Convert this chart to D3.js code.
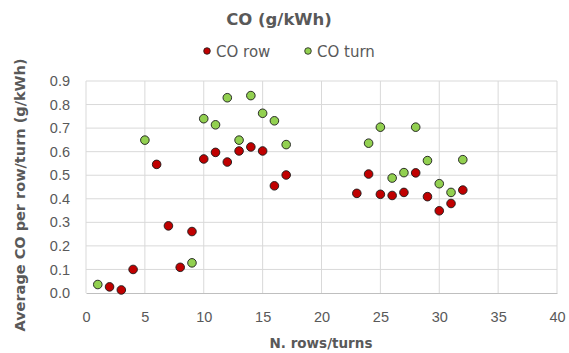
<!DOCTYPE html>
<html>
<head>
<meta charset="utf-8">
<script src="https://cdn.jsdelivr.net/npm/d3@7"></script>
<style>
  html, body { margin: 0; padding: 0; background: #fff; }
  svg { display: block; font-family: "DejaVu Sans", sans-serif; }
</style>
</head>
<body>
<svg id="chart" width="569" height="353"></svg>
<script>
// CO emissions per row and per turn (g/kWh)
const rowX = [2, 3, 4, 6, 7, 8, 9, 10, 11, 12, 13, 14, 15, 16, 17, 23, 24, 25, 26, 27, 28, 29, 30, 31, 32];
const rowY = [0.026, 0.013, 0.10, 0.546, 0.285, 0.109, 0.261, 0.569, 0.597, 0.556, 0.603, 0.62, 0.603, 0.455, 0.501, 0.423, 0.505, 0.419, 0.414, 0.427, 0.51, 0.409, 0.349, 0.38, 0.437];
const turnX = [1, 5, 9, 10, 11, 12, 13, 14, 15, 16, 17, 24, 25, 26, 27, 28, 29, 30, 31, 32];
const turnY = [0.036, 0.649, 0.128, 0.74, 0.714, 0.829, 0.649, 0.838, 0.763, 0.731, 0.63, 0.636, 0.704, 0.488, 0.511, 0.704, 0.562, 0.464, 0.427, 0.566];
const xTicks = [0, 5, 10, 15, 20, 25, 30, 35, 40];
const yTicks = [0, 0.1, 0.2, 0.3, 0.4, 0.5, 0.6, 0.7, 0.8, 0.9];

const series = [
  { name: "CO row", color: "#c00000", x: rowX, y: rowY },
  { name: "CO turn", color: "#92d050", x: turnX, y: turnY }
];

const svg = d3.select("#chart");
const plot = { left: 86, right: 557, top: 81, bottom: 293 };
const textColor = "#595959";

const x = d3.scaleLinear().domain([0, 40]).range([plot.left, plot.right]);
const y = d3.scaleLinear().domain([0, 0.9]).range([plot.bottom, plot.top]);

// gridlines
svg.append("g").selectAll("line").data(yTicks.slice(1)).join("line")
  .attr("x1", plot.left).attr("x2", plot.right)
  .attr("y1", d => y(d)).attr("y2", d => y(d))
  .attr("stroke", "#d9d9d9").attr("stroke-width", 1);
svg.append("g").selectAll("line").data(xTicks).join("line")
  .attr("y1", plot.top).attr("y2", plot.bottom)
  .attr("x1", d => x(d)).attr("x2", d => x(d))
  .attr("stroke", "#d9d9d9").attr("stroke-width", 1);

// x axis
const xAxis = svg.append("g")
  .attr("transform", `translate(0,${plot.bottom})`)
  .call(d3.axisBottom(x).tickValues(xTicks).tickSize(0).tickPadding(19).tickFormat(d3.format("d")));
xAxis.select(".domain").attr("stroke", "#bfbfbf").attr("stroke-width", 1.2);
xAxis.selectAll("text").attr("fill", textColor).style("font-size", "14.5px");

// y axis
const yAxis = svg.append("g")
  .attr("transform", `translate(${plot.left},0)`)
  .call(d3.axisLeft(y).tickValues(yTicks).tickSize(0).tickPadding(16).tickFormat(d3.format(".1f")));
yAxis.select(".domain").remove();
yAxis.selectAll("text").attr("fill", textColor).style("font-size", "14.5px");

// points
series.forEach(s => {
  svg.append("g").selectAll("circle").data(s.x.map((v, i) => [v, s.y[i]])).join("circle")
    .attr("cx", d => x(d[0])).attr("cy", d => y(d[1])).attr("r", 4.3)
    .attr("fill", s.color).attr("stroke", "#1a1a1a").attr("stroke-width", 0.9);
});

// title
svg.append("text").attr("x", 279).attr("y", 25).attr("text-anchor", "middle")
  .attr("fill", textColor).style("font-size", "16.5px").style("font-weight", "bold")
  .text("CO (g/kWh)");

// legend
const legendPos = [207, 308];
series.forEach((s, i) => {
  svg.append("circle").attr("cx", legendPos[i]).attr("cy", 51).attr("r", 3.3)
    .attr("fill", s.color).attr("stroke", "#1a1a1a").attr("stroke-width", 0.8);
  svg.append("text").attr("x", legendPos[i] + 9).attr("y", 56.5)
    .attr("fill", textColor).style("font-size", "15px").text(s.name);
});

// axis titles
svg.append("text").attr("x", 321).attr("y", 347.5).attr("text-anchor", "middle")
  .attr("fill", textColor).style("font-size", "13.5px").style("font-weight", "bold")
  .text("N. rows/turns");
svg.append("text").attr("transform", `translate(25,195) rotate(-90)`).attr("text-anchor", "middle")
  .attr("fill", textColor).style("font-size", "14.5px").style("font-weight", "bold")
  .text("Average CO per row/turn (g/kWh)");
</script>
</body>
</html>
